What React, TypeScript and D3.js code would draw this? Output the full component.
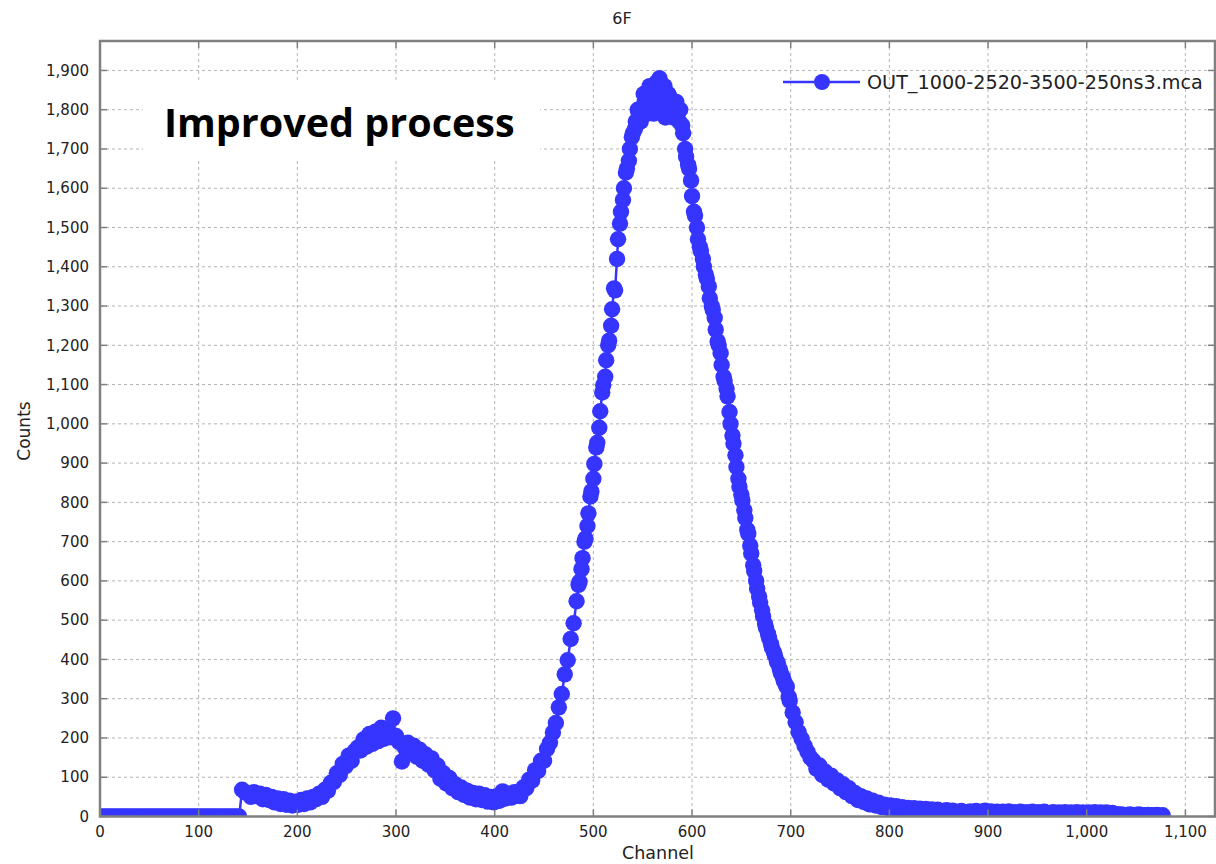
import React, { useEffect, useRef } from "react";
import * as d3 from "d3";

// MCA spectrum, sampled every 3 channels
const channelStep = 3;

// channels 0..141
const baselineStart = 0;
const baselineCounts = [
  0, 0, 0, 0, 0, 0, 0, 0, 0, 0, 0, 0, 0, 0, 0, 0,
  0, 0, 0, 0, 0, 0, 0, 0, 0, 0, 0, 0, 0, 0, 0, 0,
  0, 0, 0, 0, 0, 0, 0, 0, 0, 0, 0, 0, 0, 0, 0, 0,
];

// channels 144..420
const humpStart = 144;
const humpCounts = [
  68, 62, 58, 50, 62, 52, 58, 44, 55, 42,
  50, 36, 46, 32, 44, 30, 40, 28, 38, 30,
  42, 32, 46, 36, 50, 44, 58, 50, 68, 66,
  86, 88, 110, 106, 134, 128, 155, 142, 166, 175,
  168, 196, 178, 210, 185, 216, 192, 226, 198, 218,
  202, 250, 205, 190, 140, 175, 188, 162, 180, 152,
  170, 142, 158, 132, 148, 118, 130, 96, 110, 84,
  98, 72, 82, 62, 74, 55, 66, 48, 60, 44,
  58, 42, 54, 38, 50, 36, 52, 40, 64, 46,
  58, 48, 62,
];

// channels 423..792
const peakStart = 423;
const peakCounts = [
  62, 52, 74, 72, 94, 92, 118, 116, 142, 142,
  172, 188, 214, 238, 278, 312, 362, 398, 452, 492,
  548, 598, 658, 708, 772, 828, 898, 952, 1032, 1098,
  1162, 1212, 1292, 1340, 1470, 1540, 1600, 1650, 1700, 1740,
  1770, 1790, 1780, 1820, 1810, 1850, 1790, 1870, 1880, 1860,
  1780, 1840, 1800, 1820, 1790, 1800, 1740, 1680, 1650, 1580,
  1530, 1470, 1440, 1400, 1370, 1320, 1290, 1240, 1200, 1150,
  1110, 1070, 1000, 950, 890, 840, 805, 760, 720, 670,
  625, 580, 545, 510, 480, 455, 430, 410, 390, 365,
  345, 330, 295, 265, 240, 215, 198, 180, 165, 150,
  142, 122, 130, 106, 114, 94, 104, 84, 92, 72,
  82, 62, 72, 52, 60, 42, 52, 37, 46, 31,
  40, 28, 35, 24,
];

// in-between channels 485..698 on the main peak
const peakMidStart = 485;
const peakMidCounts = [
  590, 630, 700, 740, 815, 860, 940, 990, 1080, 1120,
  1200, 1250, 1345, 1420, 1510, 1570, 1640, 1670, 1730, 1750,
  1800, 1770, 1840, 1790, 1860, 1820, 1850, 1870, 1820, 1860,
  1790, 1830, 1780, 1820, 1770, 1760, 1700, 1660, 1620, 1540,
  1500, 1450, 1420, 1380, 1350, 1300, 1270, 1210, 1180, 1120,
  1090, 1030, 970, 920, 860, 820, 780, 730, 690, 640,
  600, 560, 525, 490, 465, 440, 418, 395, 375, 355,
  335, 305,
];

// channels 795..1077
const tailStart = 795;
const tailCounts = [
  30, 22, 28, 20, 26, 18, 24, 17, 22, 16,
  21, 15, 20, 14, 19, 13, 18, 12, 17, 13,
  14, 16, 11, 15, 12, 10, 14, 11, 9, 13,
  10, 14, 9, 12, 15, 10, 13, 9, 12, 8,
  12, 9, 13, 8, 11, 9, 12, 8, 11, 9,
  12, 7, 11, 8, 12, 9, 7, 11, 8, 10,
  7, 11, 8, 10, 7, 11, 8, 10, 7, 10,
  8, 11, 7, 10, 8, 10, 7, 9, 6, 5,
  5, 4, 4, 5, 3, 4, 5, 3, 3, 4,
  3, 3, 4, 2, 3,
];

const yTicks = [0, 100, 200, 300, 400, 500, 600, 700, 800, 900, 1000, 1100, 1200, 1300, 1400, 1500, 1600, 1700, 1800, 1900];
const xTicks = [0, 100, 200, 300, 400, 500, 600, 700, 800, 900, 1000, 1100];

const chartTitle = "6F";
const seriesName = "OUT_1000-2520-3500-250ns3.mca";
const overlayText = "Improved process";

const blue = "#3535ff";
const font = "'DejaVu Sans', Verdana, sans-serif";

const App: React.FC = () => {
  const svgRef = useRef<SVGSVGElement | null>(null);

  useEffect(() => {
    document.body.style.margin = "0";

    const segments: [number, number[]][] = [
      [baselineStart, baselineCounts],
      [humpStart, humpCounts],
      [peakStart, peakCounts],
      [peakMidStart, peakMidCounts],
      [tailStart, tailCounts],
    ];
    const data: { ch: number; c: number }[] = [];
    segments.forEach(([start, arr]) =>
      arr.forEach((c, i) => data.push({ ch: start + i * channelStep, c }))
    );
    data.sort((a, b) => a.ch - b.ch);

    const svg = d3.select(svgRef.current);
    svg.selectAll("*").remove();

    const left = 100, right = 1215, top = 41, bottom = 816.5;
    const x = d3.scaleLinear().domain([0, 1130]).range([left, right]);
    const y = d3.scaleLinear().domain([0, 1975]).range([bottom, top]);
    const fmt = d3.format(",");

    svg.append("rect").attr("width", 1216).attr("height", 864).attr("fill", "#fff");

    // grid
    const grid = svg.append("g").attr("stroke", "#b4b4b4").attr("stroke-width", 1).attr("stroke-dasharray", "3,3");
    yTicks.slice(1).forEach((t) =>
      grid.append("line").attr("x1", left).attr("x2", right).attr("y1", y(t)).attr("y2", y(t))
    );
    xTicks.slice(1).forEach((t) =>
      grid.append("line").attr("x1", x(t)).attr("x2", x(t)).attr("y1", top).attr("y2", bottom)
    );

    // white box behind the overlay label
    svg.append("rect").attr("x", 143).attr("y", 80).attr("width", 397).attr("height", 80).attr("fill", "#fff");

    // data
    svg.append("clipPath").attr("id", "plotclip")
      .append("rect").attr("x", left).attr("y", top).attr("width", right - left).attr("height", bottom - top);
    const plot = svg.append("g").attr("clip-path", "url(#plotclip)");
    const line = d3.line<{ ch: number; c: number }>().x((d) => x(d.ch)).y((d) => y(d.c));
    plot.append("path").datum(data).attr("d", line).attr("fill", "none").attr("stroke", blue).attr("stroke-width", 2.5);
    plot.selectAll("circle").data(data).enter().append("circle")
      .attr("cx", (d) => x(d.ch)).attr("cy", (d) => y(d.c)).attr("r", 8.2).attr("fill", blue);

    // frame + inward ticks
    const axisColor = "#808080";
    svg.append("rect").attr("x", left).attr("y", top).attr("width", right - left).attr("height", bottom - top)
      .attr("fill", "none").attr("stroke", axisColor).attr("stroke-width", 2.5);
    const tk = svg.append("g").attr("stroke", axisColor).attr("stroke-width", 1.5);
    yTicks.forEach((t) => {
      tk.append("line").attr("x1", left).attr("x2", left + 7).attr("y1", y(t)).attr("y2", y(t));
      tk.append("line").attr("x1", right - 7).attr("x2", right).attr("y1", y(t)).attr("y2", y(t));
    });
    xTicks.forEach((t) => {
      tk.append("line").attr("x1", x(t)).attr("x2", x(t)).attr("y1", bottom).attr("y2", bottom - 7);
      tk.append("line").attr("x1", x(t)).attr("x2", x(t)).attr("y1", top).attr("y2", top + 7);
    });

    // tick labels
    svg.append("g").selectAll("text").data(yTicks).enter().append("text")
      .attr("x", 89).attr("y", (d) => y(d)).attr("dy", "0.35em").attr("text-anchor", "end")
      .attr("font-family", font).attr("font-size", 15).attr("fill", "#222").text((d) => fmt(d));
    svg.append("g").selectAll("text").data(xTicks).enter().append("text")
      .attr("x", (d) => x(d)).attr("y", 837).attr("text-anchor", "middle")
      .attr("font-family", font).attr("font-size", 15).attr("fill", "#222").text((d) => fmt(d));

    // titles
    svg.append("text").attr("x", 622).attr("y", 24).attr("text-anchor", "middle")
      .attr("font-family", font).attr("font-size", 16).attr("fill", "#222").text(chartTitle);
    svg.append("text").attr("x", 658).attr("y", 859).attr("text-anchor", "middle")
      .attr("font-family", font).attr("font-size", 17.5).attr("fill", "#222").text("Channel");
    svg.append("text").attr("transform", "translate(30,431) rotate(-90)").attr("text-anchor", "middle")
      .attr("font-family", font).attr("font-size", 17).attr("fill", "#222").text("Counts");

    // legend
    svg.append("line").attr("x1", 783).attr("x2", 860).attr("y1", 82).attr("y2", 82)
      .attr("stroke", blue).attr("stroke-width", 2.5);
    svg.append("circle").attr("cx", 822).attr("cy", 82).attr("r", 8).attr("fill", blue);
    svg.append("text").attr("x", 867).attr("y", 82).attr("dy", "0.35em")
      .attr("font-family", font).attr("font-size", 19.2).attr("fill", "#222").text(seriesName);

    // overlay label
    svg.append("text").attr("x", 164).attr("y", 137)
      .attr("font-family", "'Open Sans', sans-serif").attr("font-weight", 700).attr("font-size", 39.5)
      .attr("fill", "#000").text(overlayText);
  }, []);

  return <svg ref={svgRef} width={1216} height={864} style={{ display: "block" }}></svg>;
};

export default App;
